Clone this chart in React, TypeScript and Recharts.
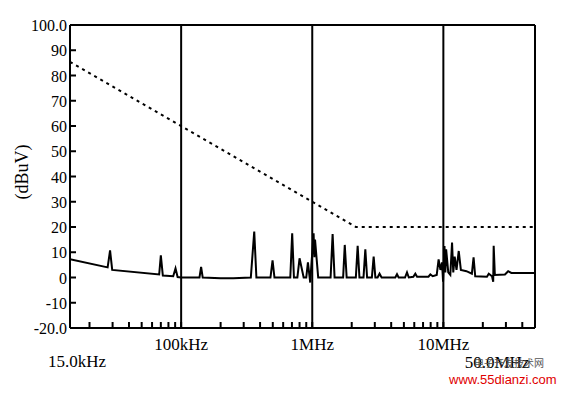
import React from 'react';
import { ComposedChart, Line, XAxis, YAxis, ReferenceLine } from 'recharts';

// measured emission trace (Hz, dBuV)
const traceFreq = [
  14200, 27500, 28700, 29800, 68000, 70000, 72500, 87000, 90600, 94000,
  100000, 138000, 142000, 146000, 200000, 250000, 340000, 361000, 375000,
  480000, 498000, 515000, 680000, 703000, 725000, 770000, 800000, 860000,
  900000, 927000, 965000, 985000, 1024000, 1037000, 1050000, 1110000,
  1380000, 1430000, 1480000, 1720000, 1770000, 1830000, 2150000, 2220000,
  2290000, 2460000, 2540000, 2620000, 2850000, 2940000, 3030000, 3150000,
  3260000, 3380000, 4300000, 4430000, 4560000, 5100000, 5280000, 5450000,
  5900000, 6110000, 6300000, 7700000, 7960000, 8300000, 8900000, 9200000,
  9500000, 9770000, 9950000, 10200000, 10350000, 10500000, 10900000,
  11300000, 11650000, 11900000, 12200000, 12600000, 13100000, 13600000,
  15000000, 16500000, 17000000, 17500000, 21500000, 22200000, 23500000,
  24000000, 24200000, 24700000, 29500000, 31200000, 33000000, 50000000,
];
const traceLevel = [
  7.2, 4.0, 10.7, 3.0, 1.2, 8.8, 0.8, 0.5, 3.6, 0.2,
  0, 0, 4.2, 0, -0.3, -0.3, 0, 18.2, 0,
  0, 6.8, 0, 0, 17.5, 0, 0, 7.6, 0,
  0, 6, -2, 5, 17.5, 8, 15, 0,
  0, 17.2, 0, 0, 12.9, 0, 0, 12.6,
  0, 0, 11.2, 0, 0, 8.3, 0, 0,
  1.5, 0, 0, 1.3, 0, 0, 2, 0,
  0.3, 1.5, 0.3, 0.3, 1.2, 0.5, 1, 7.2,
  3, 6, -1.7, 12.5, 2, 11.2, 2,
  1, 13.8, 2, 8.3, 3, 10.5, 3,
  2.5, 1.5, 8, 0.5, 0.3, 1.5, 0.5,
  -1.7, 12.6, 1, 1.2, 2.5, 1.8, 1.8,
];

// limit line
const limitFreq = [14200, 2150000, 50000000];
const limitLevel = [85.4, 20, 20];

const startFreq = 14200;
const endFreq = 50000000;
const startLabel = '15.0kHz';
const endLabel = '50.0MHz';
const majorFreq = [100000, 1000000, 10000000];
const majorLabels = ['100kHz', '1MHz', '10MHz'];
const minorFreq = [
  20000, 30000, 40000, 50000, 60000, 70000, 80000, 90000,
  200000, 300000, 400000, 500000, 600000, 700000, 800000, 900000,
  2000000, 3000000, 4000000, 5000000, 6000000, 7000000, 8000000, 9000000,
  20000000, 30000000, 40000000,
];
const levelTicks = [-20, -10, 0, 10, 20, 30, 40, 50, 60, 70, 80, 90, 100];

const trace = traceFreq.map((f, i) => ({ f, v: traceLevel[i] }));
const limit = limitFreq.map((f, i) => ({ f, v: limitLevel[i] }));

const serif = '"Liberation Serif", "DejaVu Serif", serif';

const BottomTick = (props: any) => {
  const { x, y, payload } = props;
  const v = payload.value;
  if (v === startFreq) {
    return <text x={x + 7} y={y + 39} textAnchor="middle" fontFamily={serif} fontSize={17} fill="#000">{startLabel}</text>;
  }
  if (v === endFreq) {
    return <text x={x - 38} y={y + 40} textAnchor="middle" fontFamily={serif} fontSize={17} fill="#000">{endLabel}</text>;
  }
  const mi = majorFreq.indexOf(v);
  if (mi >= 0) {
    return <text x={x} y={y + 22} textAnchor="middle" fontFamily={serif} fontSize={17} fill="#000">{majorLabels[mi]}</text>;
  }
  return <g />;
};

const LeftTick = (props: any) => {
  const { x, y, payload } = props;
  const v = payload.value;
  const label = v === 100 ? '100.0' : v === -20 ? '-20.0' : String(v);
  return (
    <text x={x - 3} y={y + 6} textAnchor="end" fontFamily={serif} fontSize={16} fill="#000">{label}</text>
  );
};

const axisStroke = { stroke: '#000', strokeWidth: 2 };
const tickStroke = { stroke: '#000', strokeWidth: 2 };

export default function App() {
  return (
    <div style={{ position: 'absolute', left: 0, top: 0, width: 564, height: 393, background: '#fff' }}>
      <ComposedChart width={564} height={393} margin={{ top: 0, right: 0, bottom: 0, left: 0 }}>
        <XAxis
          xAxisId="b"
          dataKey="f"
          type="number"
          scale="log"
          domain={[startFreq, endFreq]}
          allowDataOverflow
          ticks={[startFreq, ...minorFreq, ...majorFreq, endFreq]}
          interval={0}
          height={65}
          tickSize={-6}
          tickMargin={6}
          tickLine={tickStroke}
          axisLine={axisStroke}
          tick={BottomTick}
        />
        <XAxis
          xAxisId="t"
          orientation="top"
          dataKey="f"
          type="number"
          scale="log"
          domain={[startFreq, endFreq]}
          allowDataOverflow
          ticks={minorFreq}
          interval={0}
          height={25}
          tickSize={-6}
          tickLine={tickStroke}
          axisLine={axisStroke}
          tick={false}
        />
        <YAxis
          yAxisId="l"
          type="number"
          domain={[-20, 100]}
          ticks={levelTicks}
          interval={0}
          width={70}
          tickSize={-6}
          tickMargin={6}
          tickLine={tickStroke}
          axisLine={axisStroke}
          tick={LeftTick}
          label={() => (
            <text x={22} y={172} transform="rotate(-90 22 172)" textAnchor="middle" dominantBaseline="central" fontFamily={serif} fontSize={18} fill="#000">
              (dBuV)
            </text>
          )}
        />
        <YAxis
          yAxisId="r"
          orientation="right"
          type="number"
          domain={[-20, 100]}
          ticks={levelTicks}
          interval={0}
          width={29}
          tickSize={-6}
          tickLine={tickStroke}
          axisLine={axisStroke}
          tick={false}
        />
        {majorFreq.map((f) => (
          <ReferenceLine key={f} x={f} xAxisId="b" yAxisId="l" stroke="#000" strokeWidth={2} />
        ))}
        <Line
          data={limit}
          xAxisId="b"
          yAxisId="l"
          dataKey="v"
          type="linear"
          stroke="#000"
          strokeWidth={2}
          strokeDasharray="3 4"
          dot={false}
          activeDot={false}
          isAnimationActive={false}
        />
        <Line
          data={trace}
          xAxisId="b"
          yAxisId="l"
          dataKey="v"
          type="linear"
          stroke="#000"
          strokeWidth={2}
          dot={false}
          activeDot={false}
          isAnimationActive={false}
        />
      </ComposedChart>
      <div style={{ position: 'absolute', left: 474, top: 355, fontFamily: '"Noto Sans CJK SC", sans-serif', fontSize: 10, color: '#555', whiteSpace: 'nowrap' }}>
        电子开发技术网
      </div>
      <div style={{ position: 'absolute', left: 449, top: 372, fontFamily: '"Liberation Sans", Arial, sans-serif', fontSize: 13, color: '#e00000', whiteSpace: 'nowrap' }}>
        www.55dianzi.com
      </div>
    </div>
  );
}
